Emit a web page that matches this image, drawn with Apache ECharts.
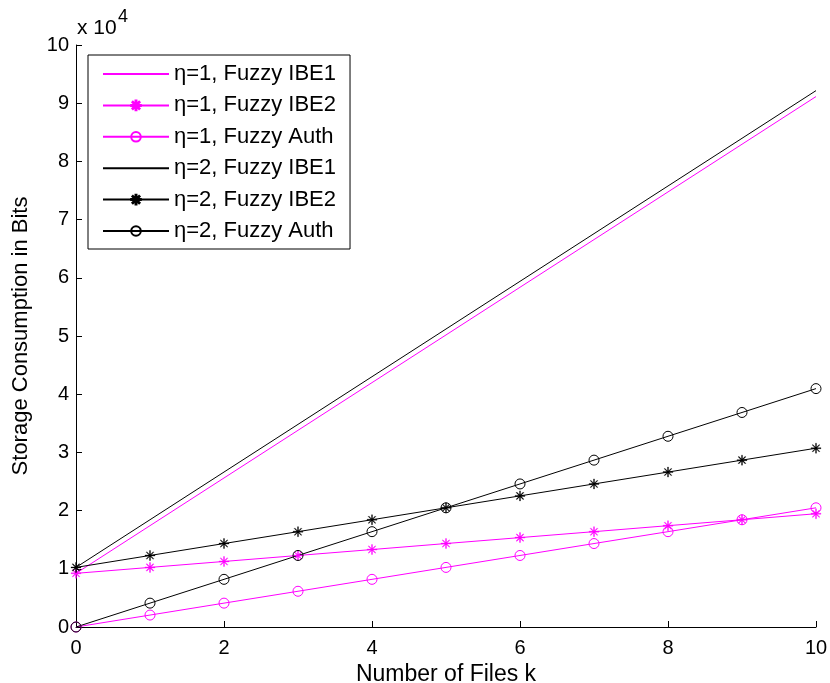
<!DOCTYPE html>
<html>
<head>
<meta charset="utf-8">
<script src="https://cdn.jsdelivr.net/npm/echarts@6/dist/echarts.min.js"></script>
<style>
  html, body { margin: 0; padding: 0; background: #fff; }
  #chart { width: 830px; height: 683px; }
</style>
</head>
<body>
<div id="chart"></div>
<script>
// storage in units of 10^4 bits
const files = [0, 1, 2, 3, 4, 5, 6, 7, 8, 9, 10];
const ibe1Files = [0, 10];
const eta1Ibe1 = [0.922, 9.114];
const eta1Ibe2 = [0.922, 1.024, 1.126, 1.229, 1.331, 1.434, 1.536, 1.638, 1.741, 1.843, 1.946];
const eta1Auth = [0, 0.205, 0.410, 0.614, 0.819, 1.024, 1.229, 1.434, 1.638, 1.843, 2.048];
const eta2Ibe1 = [1.024, 9.216];
const eta2Ibe2 = [1.024, 1.229, 1.434, 1.638, 1.843, 2.048, 2.253, 2.458, 2.662, 2.867, 3.072];
const eta2Auth = [0, 0.410, 0.819, 1.229, 1.638, 2.048, 2.458, 2.867, 3.277, 3.686, 4.096];
const names = [
  "η=1, Fuzzy IBE1", "η=1, Fuzzy IBE2", "η=1, Fuzzy Auth",
  "η=2, Fuzzy IBE1", "η=2, Fuzzy IBE2", "η=2, Fuzzy Auth"
];

const FONT = "Liberation Sans, Arial, Helvetica, sans-serif";
const MAGENTA = "#ff00ff";
const STAR = "path://M-1,-0.1L1,-0.1L1,0.1L-1,0.1Z M-0.1,-1L0.1,-1L0.1,1L-0.1,1Z " +
  "M-0.643,-0.757L0.757,0.643L0.643,0.757L-0.757,-0.643Z " +
  "M-0.757,0.643L0.643,-0.757L0.757,-0.643L-0.643,0.757Z";

function pairs(xs, ys) {
  return xs.map((x, i) => [x, ys[i]]);
}

function makeSeries(name, xs, ys, color, symbol) {
  const s = {
    name: name,
    type: "line",
    data: pairs(xs, ys),
    lineStyle: { color: color, width: 1 },
    emphasis: { disabled: true },
    animation: false
  };
  if (symbol === "star") {
    s.symbol = STAR;
    s.symbolSize = 10;
    s.itemStyle = { color: color, borderColor: color, borderWidth: 0.3 };
  } else if (symbol === "circle") {
    s.symbol = "circle";
    s.symbolSize = 10;
    s.itemStyle = { color: "transparent", borderColor: color, borderWidth: 1 };
  } else {
    s.symbol = "none";
    s.itemStyle = { color: color };
  }
  return s;
}

// IBE1 entries are plain lines in the legend
const legendData = names.map((n, i) =>
  (i === 0 || i === 3) ? { name: n, itemStyle: { opacity: 0 } } : { name: n }
);

const chart = echarts.init(document.getElementById("chart"));
chart.setOption({
  backgroundColor: "#fff",
  animation: false,
  grid: { left: 76, right: 14, top: 45, bottom: 56, outerBoundsMode: "none" },
  legend: {
    data: legendData,
    orient: "vertical",
    left: 88,
    top: 55,
    itemWidth: 66,
    itemHeight: 12,
    itemGap: 9.4,
    padding: [8, 14, 7, 14],
    borderColor: "#000",
    borderWidth: 1,
    backgroundColor: "#fff",
    selectedMode: false,
    textStyle: { fontFamily: FONT, fontSize: 22, color: "#000", lineHeight: 22 }
  },
  xAxis: {
    type: "value",
    min: 0,
    max: 10,
    interval: 2,
    name: "Number of Files k",
    nameLocation: "middle",
    nameGap: 28,
    nameTextStyle: { fontFamily: FONT, fontSize: 23, color: "#000" },
    axisLine: { lineStyle: { color: "#000", width: 1 } },
    axisTick: { inside: true, length: 6, lineStyle: { color: "#000" } },
    axisLabel: { fontFamily: FONT, fontSize: 20, color: "#000", margin: 11 },
    splitLine: { show: false }
  },
  yAxis: {
    type: "value",
    min: 0,
    max: 10,
    interval: 1,
    name: "Storage Consumption in Bits",
    nameLocation: "middle",
    nameGap: 44,
    nameTextStyle: { fontFamily: FONT, fontSize: 22, color: "#000" },
    axisLine: { show: true, lineStyle: { color: "#000", width: 1 } },
    axisTick: { show: true, inside: true, length: 6, lineStyle: { color: "#000" } },
    axisLabel: { fontFamily: FONT, fontSize: 20, color: "#000", margin: 7 },
    splitLine: { show: false }
  },
  graphic: [
    {
      type: "text",
      x: 77,
      y: 28,
      style: { text: "x 10", font: "21px " + FONT, fill: "#000", verticalAlign: "middle" }
    },
    {
      type: "text",
      x: 118,
      y: 17,
      style: { text: "4", font: "18px " + FONT, fill: "#000", verticalAlign: "middle" }
    }
  ],
  series: [
    makeSeries(names[0], ibe1Files, eta1Ibe1, MAGENTA, "none"),
    makeSeries(names[1], files, eta1Ibe2, MAGENTA, "star"),
    makeSeries(names[2], files, eta1Auth, MAGENTA, "circle"),
    makeSeries(names[3], ibe1Files, eta2Ibe1, "#000", "none"),
    makeSeries(names[4], files, eta2Ibe2, "#000", "star"),
    makeSeries(names[5], files, eta2Auth, "#000", "circle")
  ]
});
</script>
</body>
</html>
